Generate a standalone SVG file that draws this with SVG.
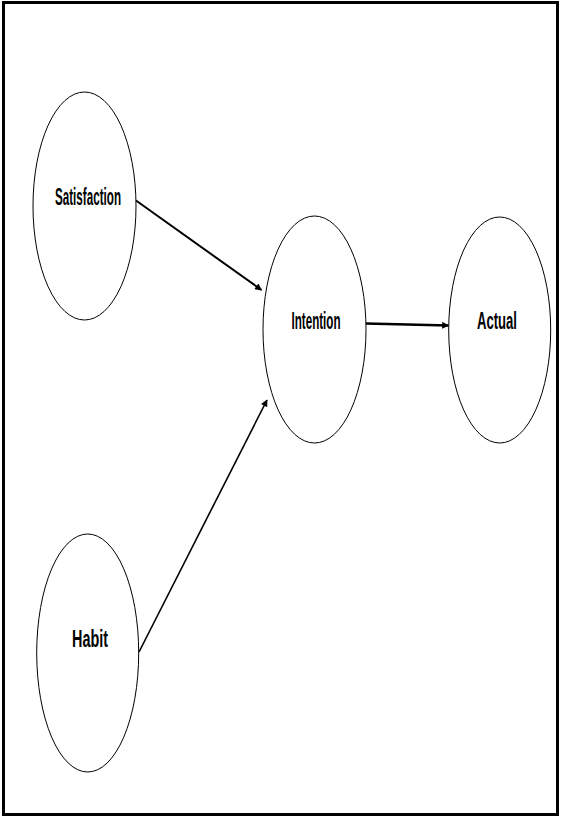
<svg xmlns="http://www.w3.org/2000/svg" width="561" height="817" viewBox="0 0 561 817">
  <defs>
    <marker id="arrow" viewBox="0 0 10 10" refX="9" refY="5" markerWidth="8" markerHeight="7" markerUnits="userSpaceOnUse" orient="auto">
      <path d="M0,0 L10,5 L0,10 z" fill="#000"/>
    </marker>
    <style>
      .node ellipse { fill: #fff; stroke: #000; stroke-width: 1; }
      .node text { font-family: "Liberation Sans", Arial, sans-serif; font-weight: bold; font-size: 23px; fill: #000; }
      .edge { stroke: #000; fill: none; marker-end: url(#arrow); }
    </style>
  </defs>

  <rect x="3.5" y="2.5" width="554" height="812" fill="#fff" stroke="#000" stroke-width="3"/>

  <g id="connectors">
    <line class="edge" x1="136" y1="200.5" x2="261.5" y2="290" stroke-width="2"/>
    <line class="edge" x1="139" y1="652" x2="267" y2="400" stroke-width="1.6"/>
    <line class="edge" x1="366" y1="323.5" x2="448.5" y2="325.5" stroke-width="2.5"/>
  </g>

  <g id="satisfaction" class="node">
    <ellipse cx="84.5" cy="206" rx="51.5" ry="114"/>
    <text x="55" y="205" textLength="66" lengthAdjust="spacingAndGlyphs">Satisfaction</text>
  </g>

  <g id="intention" class="node">
    <ellipse cx="314.5" cy="329.5" rx="51.5" ry="113.5"/>
    <text x="291.5" y="329" textLength="49" lengthAdjust="spacingAndGlyphs">Intention</text>
  </g>

  <g id="actual" class="node">
    <ellipse cx="499.7" cy="330" rx="51" ry="113"/>
    <text x="477" y="329" textLength="40" lengthAdjust="spacingAndGlyphs">Actual</text>
  </g>

  <g id="habit" class="node">
    <ellipse cx="87.7" cy="653" rx="51" ry="119"/>
    <text x="72" y="647" textLength="36" lengthAdjust="spacingAndGlyphs">Habit</text>
  </g>
</svg>
